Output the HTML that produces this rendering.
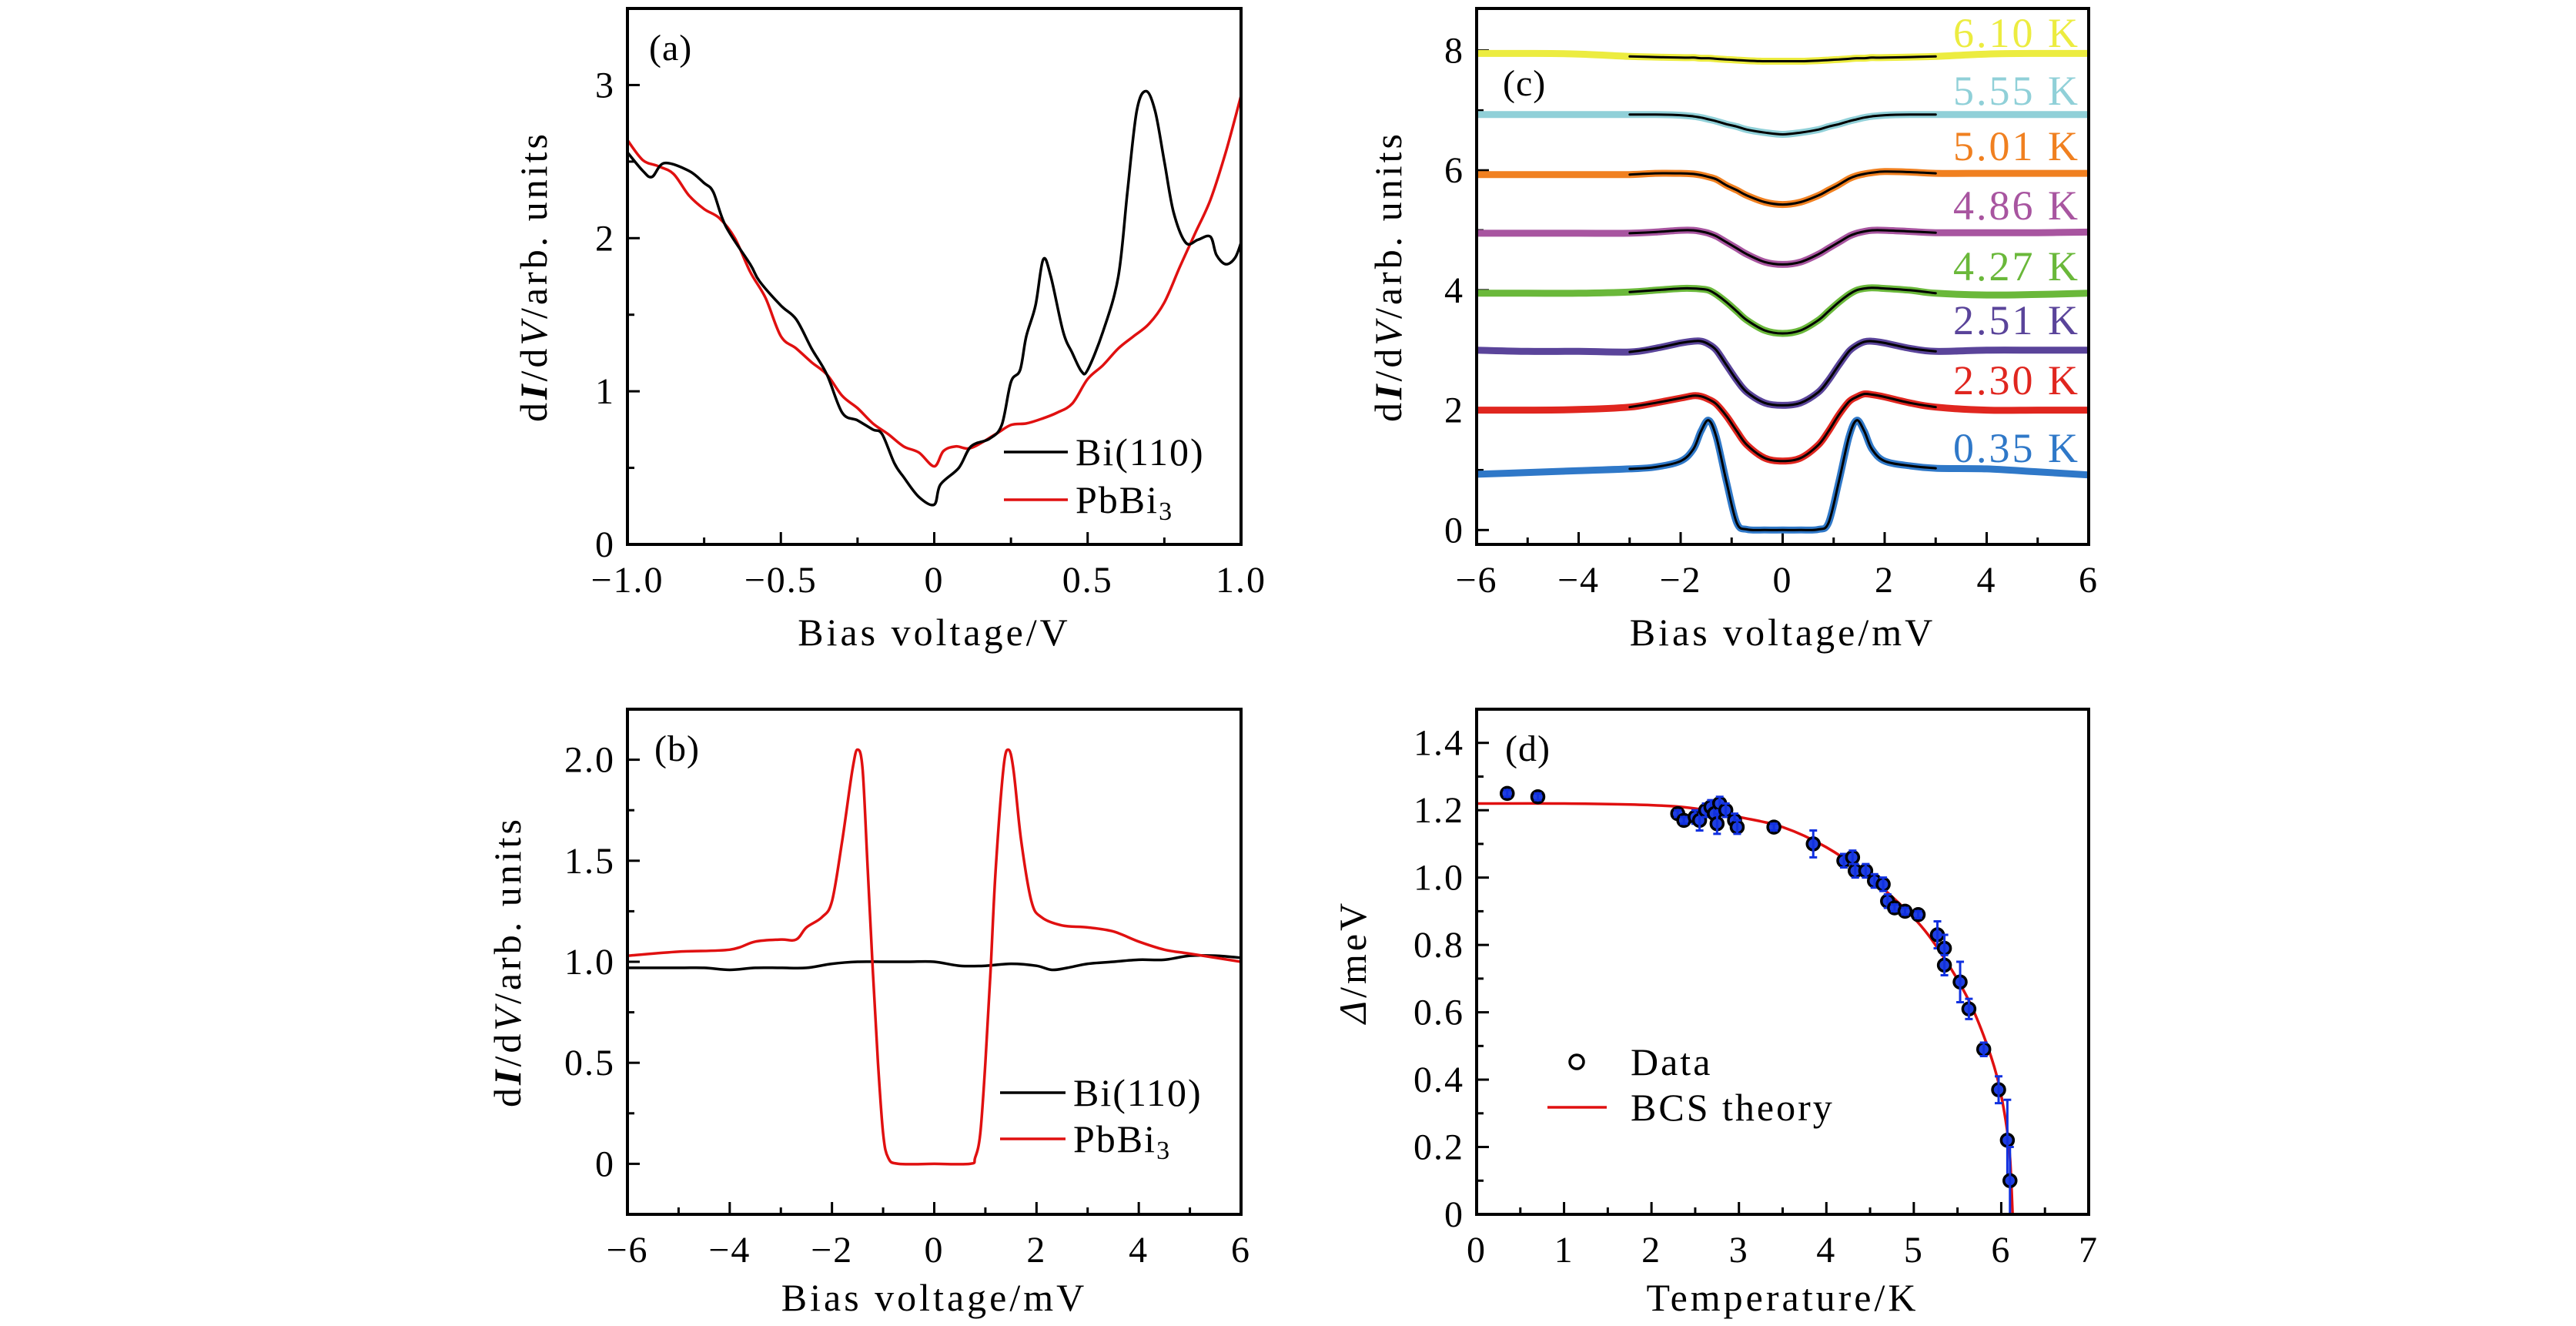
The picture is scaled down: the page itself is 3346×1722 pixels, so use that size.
<!DOCTYPE html>
<html><head><meta charset="utf-8"><style>
html,body{margin:0;padding:0;background:#fff}
svg{display:block}
text{font-family:"Liberation Serif",serif;fill:#000}
</style></head><body>
<svg id="fig" width="3346" height="1722" viewBox="0 0 3346 1722" xmlns="http://www.w3.org/2000/svg"></svg>
<script>
// ---------- Panel (a) data ----------
const aBiX=[-1,-0.95,-0.92,-0.88,-0.8,-0.75,-0.72,-0.68,-0.6,-0.57,-0.5,-0.45,-0.4,-0.35,-0.3,-0.25,-0.2,-0.17,-0.13,-0.1,-0.05,0,0.02,0.08,0.12,0.18,0.22,0.25,0.28,0.3,0.33,0.355,0.38,0.42,0.45,0.48,0.5,0.55,0.6,0.63,0.66,0.69,0.72,0.75,0.78,0.82,0.86,0.9,0.92,0.95,0.98,1.0];
const aBiY=[2.56,2.44,2.40,2.49,2.44,2.36,2.30,2.08,1.83,1.72,1.56,1.47,1.28,1.11,0.86,0.81,0.75,0.72,0.53,0.44,0.31,0.26,0.39,0.50,0.64,0.69,0.78,1.06,1.14,1.36,1.56,1.86,1.75,1.39,1.25,1.13,1.14,1.39,1.75,2.31,2.83,2.96,2.83,2.50,2.17,1.97,1.99,2.01,1.89,1.83,1.87,1.97];
const aPbX=[-1,-0.95,-0.9,-0.85,-0.8,-0.75,-0.7,-0.65,-0.6,-0.55,-0.5,-0.45,-0.4,-0.35,-0.3,-0.25,-0.2,-0.15,-0.1,-0.05,0,0.03,0.07,0.12,0.2,0.25,0.3,0.35,0.4,0.45,0.5,0.55,0.6,0.65,0.7,0.75,0.8,0.85,0.9,0.95,1.0];
const aPbY=[2.64,2.51,2.47,2.42,2.28,2.19,2.13,2.00,1.78,1.61,1.36,1.28,1.19,1.11,0.97,0.89,0.79,0.72,0.64,0.60,0.51,0.61,0.64,0.63,0.72,0.78,0.79,0.82,0.86,0.92,1.08,1.17,1.28,1.36,1.44,1.58,1.81,2.03,2.25,2.56,2.93];
const aXTicks=[-1,-0.5,0,0.5,1]; const aXTickLabels=["\u22121.0","\u22120.5","0","0.5","1.0"];
const aYTicks=[0,1,2,3]; const aYTickLabels=["0","1","2","3"];
// ---------- Panel (b) data ----------
const bPbX=[-6,-5,-4,-3.5,-3,-2.7,-2.5,-2.2,-2,-1.8,-1.6,-1.5,-1.4,-1.3,-1.2,-1.1,-1.0,-0.9,-0.7,0,0.7,0.8,0.9,1.0,1.1,1.2,1.35,1.45,1.55,1.7,1.9,2.1,2.5,3,3.5,4,4.5,5,6];
const bPbY=[1.03,1.05,1.06,1.10,1.11,1.11,1.17,1.22,1.30,1.60,1.95,2.05,1.95,1.45,0.95,0.50,0.15,0.03,0,0,0,0.03,0.15,0.50,0.95,1.45,1.95,2.05,1.95,1.60,1.30,1.22,1.18,1.17,1.15,1.10,1.06,1.04,1.00];
const bBiX=[-6,-5,-4.5,-4,-3.5,-3,-2.5,-2,-1.5,-1,-0.5,0,0.5,1,1.5,2,2.3,2.6,3,3.5,4,4.5,5,5.5,6];
const bBiY=[0.97,0.97,0.97,0.96,0.97,0.97,0.97,0.99,1.0,1.0,1.0,1.0,0.98,0.98,0.99,0.98,0.96,0.97,0.99,1.0,1.01,1.01,1.03,1.03,1.02];
const bXTicks=[-6,-4,-2,0,2,4,6]; const bXTickLabels=["\u22126","\u22124","\u22122","0","2","4","6"];
const bYTicks=[0,0.5,1,1.5,2]; const bYTickLabels=["0","0.5","1.0","1.5","2.0"];
// ---------- Panel (c) data ----------
const cX=[-6,-5,-4,-3,-2.5,-2,-1.75,-1.6,-1.45,-1.3,-1.1,-0.9,-0.7,-0.35,0,0.35,0.7,0.9,1.1,1.3,1.45,1.6,1.75,2,2.5,3,4,5,6];
const cLabels=["0.35 K","2.30 K","2.51 K","4.27 K","4.86 K","5.01 K","5.55 K","6.10 K"];
const c035=[0.93,0.96,0.99,1.02,1.05,1.15,1.35,1.65,1.83,1.55,0.80,0.12,0.01,0,0,0,0.01,0.12,0.80,1.55,1.83,1.65,1.35,1.15,1.07,1.03,1.02,0.97,0.92];
const c230=[2.0,2.0,2.01,2.05,2.12,2.20,2.24,2.23,2.18,2.10,1.90,1.65,1.42,1.20,1.15,1.20,1.42,1.65,1.92,2.14,2.22,2.27,2.26,2.22,2.12,2.05,2.0,2.0,2.0];
const c251=[3.0,2.98,2.98,2.97,3.03,3.12,3.15,3.15,3.10,3.00,2.75,2.50,2.30,2.12,2.08,2.12,2.30,2.50,2.75,2.98,3.08,3.14,3.15,3.12,3.03,2.98,3.0,3.0,3.0];
const c427=[3.95,3.95,3.95,3.97,4.00,4.03,4.03,4.02,4.00,3.93,3.80,3.65,3.50,3.33,3.28,3.33,3.50,3.65,3.80,3.93,4.00,4.03,4.04,4.03,4.00,3.95,3.92,3.93,3.95];
const c486=[4.95,4.95,4.95,4.95,4.97,5.00,5.00,4.98,4.95,4.90,4.80,4.70,4.60,4.47,4.43,4.47,4.60,4.70,4.80,4.90,4.95,4.98,5.00,5.00,4.98,4.96,4.96,4.96,4.97];
const c501=[5.93,5.93,5.93,5.93,5.95,5.95,5.94,5.92,5.89,5.85,5.75,5.67,5.58,5.47,5.43,5.47,5.58,5.67,5.76,5.86,5.91,5.94,5.96,5.98,5.97,5.95,5.95,5.95,5.95];
const c555=[6.93,6.93,6.93,6.93,6.93,6.92,6.90,6.88,6.85,6.82,6.77,6.73,6.68,6.63,6.60,6.63,6.68,6.73,6.77,6.82,6.85,6.88,6.90,6.92,6.93,6.93,6.93,6.93,6.93];
const c610=[7.95,7.95,7.94,7.90,7.89,7.88,7.88,7.87,7.87,7.86,7.85,7.84,7.83,7.82,7.82,7.82,7.83,7.84,7.85,7.86,7.87,7.87,7.88,7.88,7.89,7.90,7.94,7.95,7.95];
const cXTicks=[-6,-4,-2,0,2,4,6]; const cXTickLabels=["\u22126","\u22124","\u22122","0","2","4","6"];
const cYTicks=[0,2,4,6,8]; const cYTickLabels=["0","2","4","6","8"];
// ---------- Panel (d) data ----------
const dT=[0.35,0.7,2.3,2.37,2.5,2.55,2.62,2.68,2.72,2.75,2.78,2.85,2.95,2.98,3.4,3.85,4.2,4.3,4.33,4.45,4.55,4.65,4.7,4.78,4.9,5.05,5.27,5.35,5.35,5.53,5.63,5.8,5.97,6.07,6.1];
const dGap=[1.25,1.24,1.19,1.17,1.18,1.17,1.20,1.21,1.19,1.16,1.22,1.20,1.17,1.15,1.15,1.10,1.05,1.06,1.02,1.02,0.99,0.98,0.93,0.91,0.90,0.89,0.83,0.79,0.74,0.69,0.61,0.49,0.37,0.22,0.10];
const dErr=[0.01,0.01,0.01,0.01,0.02,0.03,0.02,0.02,0.03,0.03,0.02,0.02,0.02,0.02,0.01,0.04,0.02,0.02,0.02,0.02,0.02,0.02,0.02,0.01,0.01,0.01,0.04,0.04,0.03,0.06,0.03,0.02,0.04,0.12,0.10];
const bcsT=[0,1,2,2.5,3,3.5,4,4.5,5,5.3,5.6,5.8,5.95,6.05,6.1,6.13];
const bcsGap=[1.22,1.22,1.215,1.205,1.18,1.15,1.09,1.00,0.88,0.78,0.65,0.53,0.41,0.28,0.17,0];
const dXTicks=[0,1,2,3,4,5,6,7]; const dXTickLabels=["0","1","2","3","4","5","6","7"];
const dYTicks=[0,0.2,0.4,0.6,0.8,1.0,1.2,1.4]; const dYTickLabels=["0","0.2","0.4","0.6","0.8","1.0","1.2","1.4"];

const NS="http://www.w3.org/2000/svg";
const svg=document.getElementById('fig');
const TICKFS=48, TITLEFS=50;
function mk(tag,attrs,parent){const e=document.createElementNS(NS,tag);for(const k in attrs)e.setAttribute(k,attrs[k]);(parent||svg).appendChild(e);return e;}
function txt(s,x,y,size,anchor,parent,ls){const t=mk('text',{x:x,y:y,'font-size':size,'text-anchor':anchor||'start','letter-spacing':ls||0},parent);t.textContent=s;return t;}
function scale(d0,d1,r0,r1){return v=>r0+(v-d0)*(r1-r0)/(d1-d0);}
function smoothPath(px,py){let d='M'+px[0].toFixed(1)+','+py[0].toFixed(1);
 for(let i=0;i<px.length-1;i++){const p0=Math.max(0,i-1),p3=Math.min(px.length-1,i+2);
  const c1x=px[i]+(px[i+1]-px[p0])/6,c1y=py[i]+(py[i+1]-py[p0])/6,c2x=px[i+1]-(px[p3]-px[i])/6,c2y=py[i+1]-(py[p3]-py[i])/6;
  d+=' C'+c1x.toFixed(1)+','+c1y.toFixed(1)+' '+c2x.toFixed(1)+','+c2y.toFixed(1)+' '+px[i+1].toFixed(1)+','+py[i+1].toFixed(1);}
 return d;}

function panel(o){
 const g=mk('g',{});
 
 
 const sx=scale(o.xd[0],o.xd[1],o.L,o.R), sy=scale(o.yd[0],o.yd[1],o.B,o.T);
 const ax=mk('g',{stroke:'#000','stroke-width':3},g);
 
 
 o.xMinor.forEach(v=>{const x=sx(v);mk('line',{x1:x,y1:o.B,x2:x,y2:o.B-9},ax);});
 o.yMinor.forEach(v=>{const y=sy(v);mk('line',{x1:o.L,y1:y,x2:o.L+9,y2:y},ax);});
 o.xt.forEach((v,i)=>{const x=sx(v);mk('line',{x1:x,y1:o.B,x2:x,y2:o.B-16},ax);
  const t=txt(o.xl[i],x,o.B+62,TICKFS,'middle',g,2);});
 o.yt.forEach((v,i)=>{const y=sy(v);mk('line',{x1:o.L,y1:y,x2:o.L+16,y2:y},ax);
  const t=txt(o.yl[i],o.L-16,y+16,TICKFS,'end',g,2);});
 const cl='clip'+o.name; const cp=mk('clipPath',{id:cl},g); mk('rect',{x:o.L,y:o.T,width:o.R-o.L,height:o.B-o.T},cp);
 const plot=mk('g',{'clip-path':'url(#'+cl+')'},g);
 o.draw(plot,sx,sy,g);
 const fr=mk('rect',{x:o.L,y:o.T,width:o.R-o.L,height:o.B-o.T,fill:'none',stroke:'#000','stroke-width':4},g);
 
 
 const pl=txt(o.label,o.labX,o.labY,TICKFS,'start',g,1);
 
 
 const xt=txt(o.xTitle,(o.L+o.R)/2,o.xTitleY,TITLEFS,'middle',g,4);
 
 
 const yt=mk('text',{x:0,y:0,'font-size':TITLEFS,'letter-spacing':4,'text-anchor':'middle',transform:'translate('+o.yTitleX+','+((o.T+o.B)/2)+') rotate(-90)'},g);
 yt.innerHTML=o.yTitle;
 
 
 return g;}
function range(a,b,s){const r=[];for(let v=a;v<=b+1e-9;v+=s)r.push(+v.toFixed(4));return r;}
function line(parent,xs,ys,sx,sy,color,w,name){const p=mk('path',{d:smoothPath(xs.map(sx),ys.map(sy)),fill:'none',stroke:color,'stroke-width':w,'stroke-linejoin':'round','stroke-linecap':'round'},parent);
 
 return p;}
function legend(g,x1,x2,y,color,label){const l=mk('line',{x1:x1,y1:y,x2:x2,y2:y,stroke:color,'stroke-width':3.5},g);
 
 
 const t=mk('text',{x:x2+10,y:y+17,'font-size':TITLEFS,'letter-spacing':2},g);t.innerHTML=label;
 
 }
const yTitleDI='d<tspan font-style="italic" font-weight="bold">I</tspan>/d<tspan font-style="italic">V</tspan>/arb. units';

// Panel a
panel({name:'panel-a',L:815,R:1612,T:11,B:707,xd:[-1,1],yd:[0,3.5],xt:aXTicks,xl:aXTickLabels,yt:aYTicks,yl:aYTickLabels,
 xMinor:range(-0.75,0.75,0.5),yMinor:range(0.5,3.5,1),label:'(a)',labX:843,labY:78,xTitle:'Bias voltage/V',xTitleY:838,yTitle:yTitleDI,yTitleX:710,
 draw:(p,sx,sy,g)=>{line(p,aPbX,aPbY,sx,sy,'#e01010',3.5,'pbbi3-curve');line(p,aBiX,aBiY,sx,sy,'#000',3.5,'bi110-curve');
  legend(g,1304,1387,587,'#000','Bi(110)');legend(g,1304,1387,649,'#e01010','PbBi<tspan font-size="34" dy="9">3</tspan>');}});
// Panel b
panel({name:'panel-b',L:815,R:1612,T:921,B:1577,xd:[-6,6],yd:[-0.25,2.25],xt:bXTicks,xl:bXTickLabels,yt:bYTicks,yl:bYTickLabels,
 xMinor:range(-5,5,2),yMinor:range(0.25,1.75,0.5),label:'(b)',labX:850,labY:988,xTitle:'Bias voltage/mV',xTitleY:1702,yTitle:yTitleDI,yTitleX:676,
 draw:(p,sx,sy,g)=>{line(p,bBiX,bBiY,sx,sy,'#000',3.5,'bi110-curve');line(p,bPbX,bPbY,sx,sy,'#e01010',3.5,'pbbi3-curve');
  legend(g,1299,1384,1419,'#000','Bi(110)');legend(g,1299,1384,1479,'#e01010','PbBi<tspan font-size="34" dy="9">3</tspan>');}});
// Panel c
const cSeries=[c035,c230,c251,c427,c486,c501,c555,c610];
const cColors=['#2f78c8','#e0261f','#5a449a','#6ab83a','#a855a0','#f08020','#90d0d8','#ecec40'];
const cLabelY=[600,512,434,364,285,208,136,61];
panel({name:'panel-c',L:1918,R:2713,T:11,B:707,xd:[-6,6],yd:[-0.24,8.7],xt:cXTicks,xl:cXTickLabels,yt:cYTicks,yl:cYTickLabels,
 xMinor:range(-5,5,2),yMinor:range(1,7,2),label:'(c)',labX:1952,labY:124,xTitle:'Bias voltage/mV',xTitleY:838,yTitle:yTitleDI,yTitleX:1820,
 draw:(p,sx,sy,g)=>{cSeries.forEach((s,i)=>{line(p,cX,s,sx,sy,cColors[i],9,'data-'+cLabels[i].replace(' ','').replace('.','p'));});
  cSeries.forEach((s,i)=>{const fx=[],fy=[];cX.forEach((v,j)=>{if(Math.abs(v)<=3){fx.push(v);fy.push(s[j]);}});line(p,fx,fy,sx,sy,'#000',3,'fit-'+cLabels[i].replace(' ','').replace('.','p'));
   const t=txt(cLabels[i],2702,cLabelY[i],54,'end',g,3);t.setAttribute('fill',cColors[i]);t.style.fill=cColors[i];
   
   });}});
// Panel d
panel({name:'panel-d',L:1918,R:2713,T:921,B:1577,xd:[0,7],yd:[0,1.5],xt:dXTicks,xl:dXTickLabels,yt:dYTicks,yl:dYTickLabels,
 xMinor:range(0.5,6.5,1),yMinor:range(0.1,1.5,0.2),label:'(d)',labX:1955,labY:988,xTitle:'Temperature/K',xTitleY:1702,
 yTitle:'<tspan font-style="italic">\u0394</tspan>/meV',yTitleX:1774,
 draw:(p,sx,sy,g)=>{line(p,bcsT,bcsGap,sx,sy,'#e01010',3.5,'bcs-curve');
  dT.forEach((t,i)=>{const x=sx(t),y=sy(dGap[i]),y1=sy(dGap[i]+dErr[i]),y2=sy(dGap[i]-dErr[i]);
   const c=mk('circle',{cx:x,cy:y,r:8,fill:'#2040e0',stroke:'#000','stroke-width':3.5},p);
   
   
   const e=mk('path',{d:'M'+x+','+y1+'V'+y2+'M'+(x-5)+','+y1+'H'+(x+5)+'M'+(x-5)+','+y2+'H'+(x+5),stroke:'#1030e0','stroke-width':3,fill:'none'},p);
   
   });
  const lc=mk('circle',{cx:2048,cy:1379,r:9,fill:'none',stroke:'#000','stroke-width':3.5},g);
  
  
  const lt=txt('Data',2118,1396,TITLEFS,'start',g,3);
  
  
  const ll=mk('line',{x1:2010,y1:1438,x2:2087,y2:1438,stroke:'#e01010','stroke-width':3.5},g);
  
  
  const lt2=txt('BCS theory',2118,1455,TITLEFS,'start',g,3);
  
  }});
</script>
</body></html>
